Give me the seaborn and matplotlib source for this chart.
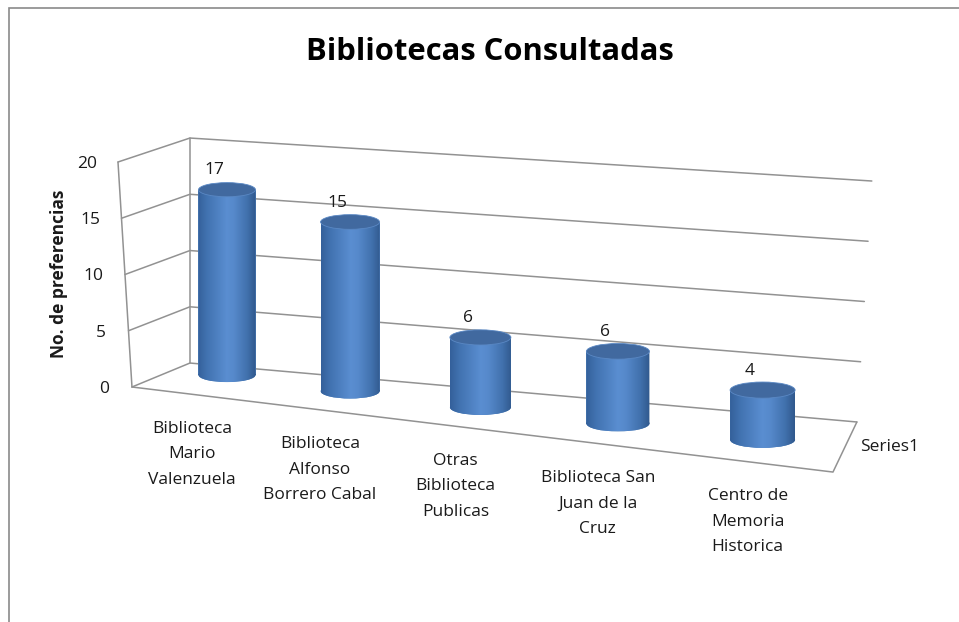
import numpy as np
import pandas as pd
import matplotlib
matplotlib.use("Agg")
import matplotlib.pyplot as plt
import seaborn as sns
from matplotlib.patches import Ellipse, PathPatch, Rectangle
from matplotlib.path import Path
from matplotlib.transforms import Affine2D
from matplotlib.colors import LinearSegmentedColormap

# ---------------- data ----------------
title = "Bibliotecas Consultadas"
y_label = "No. de preferencias"
series_name = "Series1"
categories = [
    "Biblioteca\nMario\nValenzuela",
    "Biblioteca\nAlfonso\nBorrero Cabal",
    "Otras\nBiblioteca\nPublicas",
    "Biblioteca San\nJuan de la\nCruz",
    "Centro de\nMemoria\nHistorica",
]
values = [17, 15, 6, 6, 4]
y_ticks = [0, 5, 10, 15, 20]

# ---------------- style ----------------
sns.set_theme(style="white")
plt.rcParams["font.family"] = ["Open Sans", "DejaVu Sans"]
TXT = "#1a1a1a"
GRID = "#929292"
BAR = "#4F81BD"
FS = 12.5

W, H, DPI = 959, 622, 100
fig = plt.figure(figsize=(W / DPI, H / DPI), dpi=DPI, facecolor="white")

# pixel layout of the pseudo-3D plot area
PX_X, PX_Y = 135.75, 11.25      # pixels per category step / per value unit
X0_PX, Y0_PX = 227, 387          # pixel position of category 0 / value 0
ax_l, ax_r, ax_t, ax_b = 112, 900, 120, 480
ax = fig.add_axes([ax_l / W, 1 - ax_b / H, (ax_r - ax_l) / W, (ax_b - ax_t) / H])
ax.set_facecolor("none")

df = pd.DataFrame({"Biblioteca": categories, "Preferencias": values})
sns.barplot(data=df, x="Biblioteca", y="Preferencias", color=BAR,
            width=0.42, ax=ax, zorder=3, saturation=1)


# perspective: each bar sits on a floor that drops & grows toward the right
def bar_frame(xc):
    k = 1 + 0.035 * xc
    x_pos = (119.5 * xc + 3.6 * xc ** 2) / PX_X
    base = (Y0_PX - 375 - 16.2 * xc) / PX_Y
    return (Affine2D().translate(-xc, 0).scale(k, k * 10.9 / PX_Y)
            .translate(x_pos, base) + ax.transData)


# walls of the 3D box (left wall, back wall, floor)
def front_left(v):
    return (-0.70 - 0.00515 * v, v)


def back_left(v):
    return (-0.273, 2.13 + v)


def back_right(v):
    return (4.64 + 0.0055 * v, -3.11 + 1.071 * v)


front_right = (4.464, -7.56)

wall_kw = dict(color=GRID, lw=1.1, zorder=1, solid_capstyle="round")
for v in y_ticks:
    pts = [front_left(v), back_left(v), back_right(v)]
    ax.plot([p[0] for p in pts], [p[1] for p in pts], **wall_kw)
for a, b in [(front_left(0), front_left(y_ticks[-1])),
             (back_left(0), back_left(y_ticks[-1]))]:
    ax.plot([a[0], b[0]], [a[1], b[1]], **wall_kw)
floor = [front_left(0), front_right, back_right(0)]
ax.plot([p[0] for p in floor], [p[1] for p in floor], **wall_kw)

# cylinders built on seaborn's bars
cyl_cmap = LinearSegmentedColormap.from_list(
    "cyl", [(0.0, "#34609A"), (0.15, "#4172B0"), (0.5, "#5A8ED1"),
            (0.62, "#5689CB"), (0.85, "#4171AD"), (1.0, "#30588C")])
grad = np.linspace(0, 1, 256).reshape(1, -1)
EH = 1.3  # ellipse height (value units in bar frame)

for p in list(ax.patches):
    xc = p.get_x() + p.get_width() / 2
    w = p.get_width()
    v = p.get_height()
    T = bar_frame(xc)
    p.set_transform(T)
    p.set_edgecolor("none")
    bottom = Ellipse((xc, 0), w, EH, transform=T, facecolor=BAR,
                     edgecolor="none", zorder=2.9)
    ax.add_patch(bottom)
    rect_path = Path.unit_rectangle().transformed(
        Affine2D().scale(w, v).translate(xc - w / 2, 0))
    ell_path = Path.unit_circle().transformed(
        Affine2D().scale(w / 2, EH / 2).translate(xc, 0))
    clip = PathPatch(Path.make_compound_path(rect_path, ell_path),
                     transform=T)
    im = ax.imshow(grad, cmap=cyl_cmap, extent=[xc - w / 2, xc + w / 2, -EH / 2, v],
                   aspect="auto", interpolation="bilinear", origin="lower",
                   zorder=3.1)
    im.set_transform(T)
    im.set_clip_path(clip)
    top = Ellipse((xc, v), w, EH, transform=T, facecolor="#41699F",
                  edgecolor="#5A88C4", lw=0.6, zorder=3.3)
    ax.add_patch(top)
    ax.annotate(f"{v:g}", xy=(xc, v), xycoords=T, xytext=(-9, 14),
                textcoords="offset points", ha="center", va="center",
                fontsize=FS, color=TXT, zorder=5)

# category labels along the front edge of the floor
slope = (front_right[1] - front_left(0)[1]) / (front_right[0] - front_left(0)[0])
for i, cat in enumerate(categories):
    xl = (119.5 * i + 3.6 * i ** 2 - 35 + 5 * i) / PX_X
    yl = front_left(0)[1] + (xl - front_left(0)[0]) * slope
    ax.annotate(cat, xy=(xl, yl), xytext=(0, -19), textcoords="offset points",
                ha="center", va="top", fontsize=FS, color=TXT,
                linespacing=1.8)

# series label at the right of the floor
mid = ((front_right[0] + back_right(0)[0]) / 2, (front_right[1] + back_right(0)[1]) / 2)
ax.annotate(series_name, xy=mid, xytext=(11, 0), textcoords="offset points",
            ha="left", va="center", fontsize=FS, color=TXT)

# axes / ticks
ax.set_xticks([])
ax.set_xlabel("")
ax.set_yticks(y_ticks)
ax.set_yticklabels([str(t) for t in y_ticks])
ax.tick_params(axis="y", length=0, pad=2, labelsize=FS, labelcolor=TXT)
for t, v in zip(ax.yaxis.get_major_ticks(), y_ticks):
    t.label1.set_transform(t.label1.get_transform() + Affine2D().translate(-0.6 * v, 0))
for s in ax.spines.values():
    s.set_visible(False)
ax.set_ylabel(y_label, fontsize=FS, fontweight="bold", color=TXT)
ax.yaxis.set_label_coords((68 - ax_l) / (ax_r - ax_l), (ax_b - 274) / (ax_b - ax_t))

ax.set_xlim((ax_l - X0_PX) / PX_X, (ax_r - X0_PX) / PX_X)
ax.set_ylim((Y0_PX - ax_b) / PX_Y, (Y0_PX - ax_t) / PX_Y)

# title and outer border
fig.text(490 / W, 1 - 60 / H, title, ha="center", va="baseline",
         fontsize=22.3, fontweight="bold", color="#000000")
fig.add_artist(Rectangle((9 / W, -0.1), 1.2, 1.1 - 8 / H, transform=fig.transFigure,
                         fill=False, edgecolor="#8a8a8a", lw=1.2))

fig.savefig("out.png", dpi=DPI, facecolor="white")
